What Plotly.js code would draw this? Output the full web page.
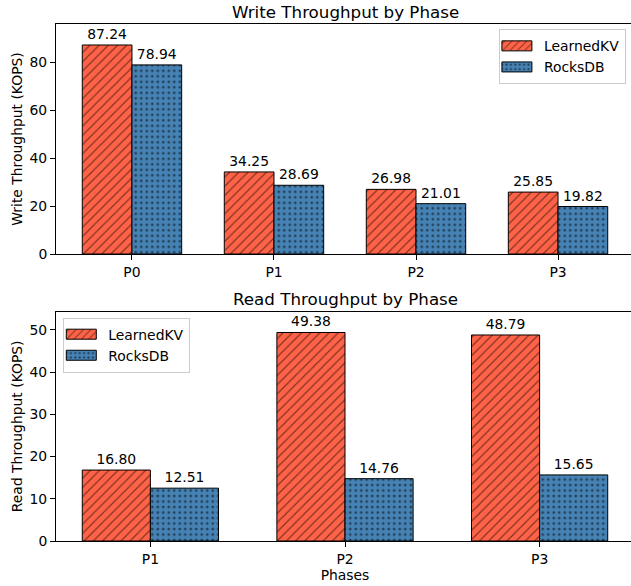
<!DOCTYPE html>
<html>
<head>
<meta charset="utf-8">
<script src="https://cdn.plot.ly/plotly-3.0.1.min.js"></script>
<style>
html, body { margin: 0; padding: 0; overflow: hidden; background: #fff; }
#chart { width: 634px; height: 586px; }
</style>
</head>
<body>
<div id="chart"></div>
<script>
// Data
const writePhases = ["P0", "P1", "P2", "P3"];
const writeLearnedKV = [87.24, 34.25, 26.98, 25.85];
const writeRocksDB = [78.94, 28.69, 21.01, 19.82];

const readPhases = ["P1", "P2", "P3"];
const readLearnedKV = [16.80, 49.38, 48.79];
const readRocksDB = [12.51, 14.76, 15.65];

const seriesNames = ["LearnedKV", "RocksDB"];
const titles = ["Write Throughput by Phase", "Read Throughput by Phase"];

const FONT = "DejaVu Sans, sans-serif";
const FS = 13.9;
const colLK = "#FF6347";
const colRD = "#4682B4";

function barTrace(x, y, name, color, shape, xa, ya, legend) {
  return {
    type: "bar", x: x, y: y, name: name,
    xaxis: xa, yaxis: ya, legend: legend, showlegend: true,
    marker: {
      color: color,
      line: { color: "#000", width: 1 },
      pattern: shape === "/" ?
        { shape: "/", fgcolor: "#000", bgcolor: color, size: 6.5, solidity: 0.18, fillmode: "overlay" } :
        { shape: ".", fgcolor: "#000", bgcolor: color, size: 5.5, solidity: 0.2, fillmode: "overlay" }
    },
    texttemplate: "%{y:.2f}",
    textposition: "outside",
    textfont: { family: FONT, size: FS, color: "#000" },
    cliponaxis: false,
    hoverinfo: "skip"
  };
}

const data = [
  barTrace(writePhases, writeLearnedKV, seriesNames[0], colLK, "/", "x", "y", "legend"),
  barTrace(writePhases, writeRocksDB, seriesNames[1], colRD, ".", "x", "y", "legend"),
  barTrace(readPhases, readLearnedKV, seriesNames[0], colLK, "/", "x2", "y2", "legend2"),
  barTrace(readPhases, readRocksDB, seriesNames[1], colRD, ".", "x2", "y2", "legend2")
];

const axisCommon = {
  showline: true, mirror: true, linecolor: "#000", linewidth: 1,
  ticks: "outside", ticklen: 5, tickwidth: 1, tickcolor: "#000",
  showgrid: false, zeroline: false,
  tickfont: { family: FONT, size: FS, color: "#000" }
};

const legendCommon = {
  bgcolor: "rgba(255,255,255,0.8)", bordercolor: "#cccccc", borderwidth: 1,
  font: { family: FONT, size: FS, color: "#000" }, tracegroupgap: 4, itemwidth: 34
};

const layout = {
  width: 634, height: 586,
  margin: { l: 56, r: 0, t: 24, b: 45 },
  paper_bgcolor: "#fff", plot_bgcolor: "#fff",
  font: { family: FONT, size: FS, color: "#000" },
  barmode: "group", bargap: 0.3, bargroupgap: 0,
  xaxis: Object.assign({}, axisCommon, { domain: [0, 1], anchor: "y", range: [-0.535, 3.535], type: "category" }),
  yaxis: Object.assign({}, axisCommon, { domain: [0.5551, 1], anchor: "x", range: [0, 96.0], tickvals: [0, 20, 40, 60, 80],
    title: { text: "Write Throughput (KOPS)", font: { family: FONT, size: FS, color: "#000" }, standoff: 3 } }),
  xaxis2: Object.assign({}, axisCommon, { domain: [0, 1], anchor: "y2", range: [-0.485, 2.485], type: "category",
    title: { text: "Phases", font: { family: FONT, size: FS, color: "#000" }, standoff: 4 } }),
  yaxis2: Object.assign({}, axisCommon, { domain: [0, 0.4435], anchor: "x2", range: [0, 54.3], tickvals: [0, 10, 20, 30, 40, 50],
    title: { text: "Read Throughput (KOPS)", font: { family: FONT, size: FS, color: "#000" }, standoff: 3 } }),
  legend: Object.assign({}, legendCommon, { x: 0.986, xanchor: "right", y: 0.9897, yanchor: "top" }),
  legend2: Object.assign({}, legendCommon, { x: 0.0126, xanchor: "left", y: 0.432, yanchor: "top" }),
  annotations: [
    { text: titles[0], xref: "paper", yref: "paper", x: 0.5, y: 1.0232, xanchor: "center", yanchor: "middle",
      showarrow: false, font: { family: FONT, size: 16.7, color: "#000" } },
    { text: titles[1], xref: "paper", yref: "paper", x: 0.5, y: 0.468, xanchor: "center", yanchor: "middle",
      showarrow: false, font: { family: FONT, size: 16.7, color: "#000" } }
  ]
};

Plotly.newPlot("chart", data, layout, { staticPlot: true, displayModeBar: false }).then(function (gd) {
  // widen legend swatches to a matplotlib-like 30x10 patch
  gd.querySelectorAll(".legendpoints path").forEach(function (p) {
    p.setAttribute("d", "M10,5H-20V-5H10Z");
  });
});
</script>
</body>
</html>
